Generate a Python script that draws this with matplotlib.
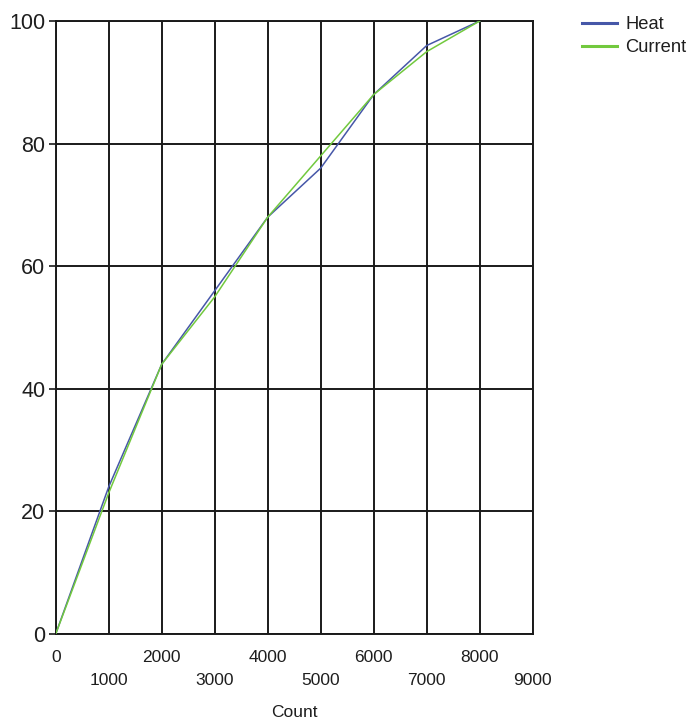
import matplotlib
matplotlib.use("Agg")
import matplotlib.pyplot as plt

# Data
counts = [0, 1000, 2000, 3000, 4000, 5000, 6000, 7000, 8000]
heat = [0, 24, 44, 56, 68, 76, 88, 96, 100]
current = [0, 23, 44, 55, 68, 78, 88, 95, 100]
x_major = [0, 2000, 4000, 6000, 8000]
x_minor = [1000, 3000, 5000, 7000, 9000]
y_ticks = [0, 20, 40, 60, 80, 100]

plt.rcParams['font.family'] = ['Liberation Sans', 'DejaVu Sans']
TXT = '#1e1e1e'

fig = plt.figure(figsize=(6.96, 7.21), dpi=100)
ax = fig.add_axes([55.7/696, 1-634/721, (532.7-55.7)/696, (634-21)/721])

ax.plot(counts, heat, color='#4657A8', lw=1.1, label='Heat', zorder=3)
ax.plot(counts, current, color='#72C93E', lw=1.1, label='Current', zorder=3)

ax.set_xlim(0, 9000)
ax.set_ylim(0, 100)

ax.set_xticks(x_major)
ax.set_xticklabels([str(v) for v in x_major])
ax.set_xticks(x_minor, minor=True)
ax.set_xticklabels([str(v) for v in x_minor], minor=True)
ax.set_yticks(y_ticks)
ax.set_yticklabels([str(v) for v in y_ticks])

ax.tick_params(axis='x', which='major', length=0, pad=11.5, labelsize=12.5, labelcolor=TXT)
ax.tick_params(axis='x', which='minor', length=0, pad=28.3, labelsize=12.5, labelcolor=TXT)
ax.tick_params(axis='y', which='major', length=5.4, width=1.2, pad=2.2, labelsize=15.5,
               labelcolor=TXT, color='#1a1a1a')

ax.grid(True, which='both', axis='x', color='#1a1a1a', lw=1.4)
ax.grid(True, which='major', axis='y', color='#1a1a1a', lw=1.4)
ax.set_axisbelow(True)
for s in ax.spines.values():
    s.set_color('#1a1a1a')
    s.set_linewidth(1.4)

ax.set_xlabel('Count', fontsize=12.5, color=TXT, labelpad=12)

leg = fig.legend(loc='upper left', bbox_to_anchor=(582/696, 1-16/721), frameon=False,
                 fontsize=13.2, handlelength=1.9, handletextpad=0.45, borderpad=0,
                 borderaxespad=0, labelspacing=0.33)
for t in leg.get_texts():
    t.set_color(TXT)
for l in leg.get_lines():
    l.set_linewidth(2.2)

fig.savefig('out.png', dpi=100)
